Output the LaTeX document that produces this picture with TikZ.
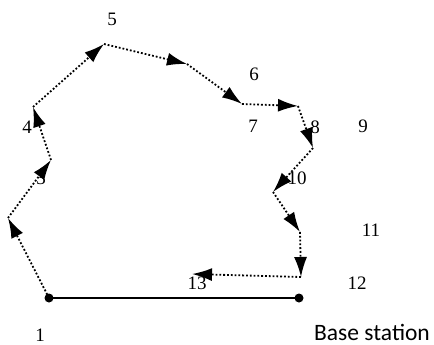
\documentclass[tikz,border=0pt]{standalone}
\usepackage{fontspec}
\setmainfont{Liberation Serif}
\newfontfamily\labelsans{Carlito}
\usetikzlibrary{arrows.meta}

\begin{document}
\begin{tikzpicture}[
  x=1pt, y=-1pt,
  font=\fontsize{19}{21}\selectfont,
  num/.style  ={inner sep=0pt, anchor=center},
  hop/.style  ={-{Latex[length=20pt, width=13pt]}, line width=1.8pt,
                dash pattern=on 1.8pt off 2pt},
  link/.style ={line width=1.8pt, black},
  mote/.style ={circle, fill=black, inner sep=0pt, minimum size=9pt},
]
\useasboundingbox (0,0) rectangle (434,345);

% ================= route vertices =================
\coordinate (n1)  at (49,298);
\coordinate (n2)  at (8,218);
\coordinate (n3)  at (51,160);
\coordinate (n4)  at (33,107);
\coordinate (n5)  at (104,44);
\coordinate (n6)  at (187,64);
\coordinate (n7)  at (242,104);
\coordinate (n8)  at (298,106);
\coordinate (n9)  at (313,148);
\coordinate (n10) at (273,192);
\coordinate (n11) at (300,232);
\coordinate (n12) at (301,277);
\coordinate (n13) at (192,274);
\coordinate (bs)  at (299,298);

% ================= base link =================
\draw[link] (n1) -- (bs);
\node[mote] (m1) at (n1) {};
\node[mote] (mbs) at (bs) {};

% ================= dotted hops =================
\foreach \a/\b in {n1/n2, n2/n3, n3/n4, n4/n5, n5/n6, n6/n7, n7/n8,
                   n8/n9, n9/n10, n10/n11, n11/n12, n12/n13}
  {\draw[hop] (\a) -- (\b);}

% ================= labels =================
\node[num] (l1)  at (40,335)  {1};
\node[num] (l3)  at (41,178)  {3};
\node[num] (l4)  at (27,127)  {4};
\node[num] (l5)  at (112,19)  {5};
\node[num] (l6)  at (254,74)  {6};
\node[num] (l7)  at (253,126) {7};
\node[num] (l8)  at (315,127) {8};
\node[num] (l9)  at (363,126) {9};
\node[num] (l10) at (297,178) {10};
\node[num] (l11) at (371,230) {11};
\node[num] (l12) at (357,283) {12};
\node[num] (l13) at (197,283) {13};
\node[num, font=\labelsans\fontsize{23.5}{25}\selectfont] (lbs) at (372,332) {Base station};

\end{tikzpicture}
\end{document}
